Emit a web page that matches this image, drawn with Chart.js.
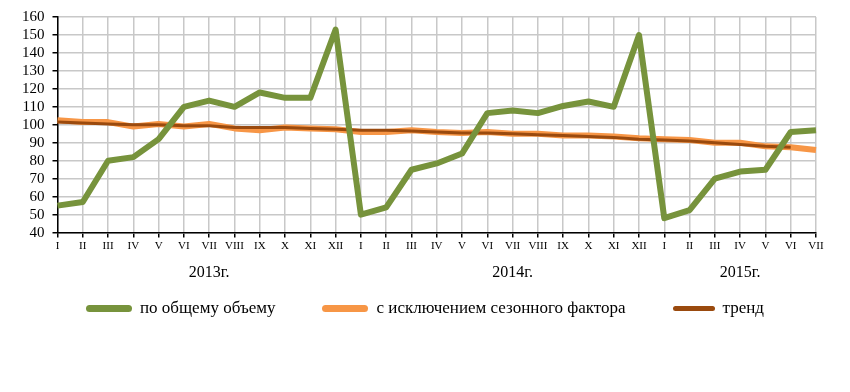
<!DOCTYPE html>
<html>
<head>
<meta charset="utf-8">
<script src="https://cdn.jsdelivr.net/npm/chart.js@4.4.1/dist/chart.umd.min.js"></script>
<style>
  html, body { margin: 0; padding: 0; background: #fff; }
  #wrap { position: relative; width: 850px; height: 392px; }
  #legend {
    position: absolute; left: 0; top: 298px; width: 850px;
    display: flex; justify-content: center; gap: 47px;
    font-family: 'Liberation Serif', 'Times New Roman', serif; font-size: 17px; color: #000;
  }
  #legend .item { display: flex; align-items: center; }
  #legend .swatch { width: 46px; height: 7px; border-radius: 4px; margin-right: 8px; }
</style>
</head>
<body>
<div id="wrap">
  <canvas id="chart" width="850" height="392"></canvas>
  <div id="legend"></div>
</div>
<script>
// ---------------------------------------------------------------------------
// Data
// ---------------------------------------------------------------------------

const ROMAN = ['I','II','III','IV','V','VI','VII','VIII','IX','X','XI','XII'];
const years       = ['2013г.', '2014г.', '2015г.'];
const monthsCount = [12, 12, 7];

const totalVolume = [
  55, 57, 80, 82, 92, 110, 113.5, 110, 118, 115, 115, 153,
  50, 54, 75, 78.5, 84, 106.5, 108, 106.5, 110.5, 113, 110, 150,
  48, 52.5, 70, 74, 75, 96, 97,
];
const seasonAdj = [
  102.5, 101.5, 101.5, 99, 100.5, 99, 100.5, 98, 97, 98.5, 98, 97.5,
  96, 96, 97, 96, 95.5, 96, 95, 95, 94, 94, 93.5, 92.5,
  92, 91.5, 90, 90, 88, 87.5, 86,
];
const trend = [
  101.5, 101, 100.5, 100, 100, 99.5, 99.5, 98.5, 98.5, 98.5, 98, 97.5,
  97, 97, 96.5, 96, 95.5, 95.5, 95, 94.5, 94, 93.5, 93, 92,
  91.5, 91, 90, 89, 88, 87.5, null,
];

const seriesNames  = ['по общему объему', 'с исключением сезонного фактора', 'тренд'];
const seriesColors = ['#77933C', '#F79646', '#9A4A0E'];

// month labels and year labels (centered in each year's block)
const monthLabels = [];
const yearLabels  = [];
monthsCount.forEach((n, yi) => {
  for (let m = 0; m < n; m++) {
    monthLabels.push(ROMAN[m]);
    yearLabels.push(m === Math.floor(n / 2) ? years[yi] : '');
  }
});

// ---------------------------------------------------------------------------
// Chart
// ---------------------------------------------------------------------------

const SERIF = "'Liberation Serif', 'Times New Roman', serif";

const chart = new Chart(document.getElementById('chart'), {
  type: 'line',
  data: {
    labels: monthLabels,
    datasets: [
      { label: seriesNames[0], data: totalVolume, borderColor: seriesColors[0], borderWidth: 6, order: 0 },
      { label: seriesNames[1], data: seasonAdj,   borderColor: seriesColors[1], borderWidth: 6, order: 2 },
      { label: seriesNames[2], data: trend,       borderColor: seriesColors[2], borderWidth: 3, order: 1 },
    ],
  },
  options: {
    responsive: false,
    animation: false,
    layout: { padding: { top: 11, right: 34, bottom: 102, left: 14 } },
    elements: {
      point: { radius: 0 },
      line:  { tension: 0, borderJoinStyle: 'round', borderCapStyle: 'butt' },
    },
    plugins: { legend: { display: false }, tooltip: { enabled: false } },
    scales: {
      x: {
        offset: false,
        grid: { color: '#c8c8c8', lineWidth: 1.5, tickColor: '#000', tickLength: 5, offset: false },
        border: { color: '#000', width: 1.5 },
        ticks: { autoSkip: false, maxRotation: 0, color: '#000', padding: 2, font: { family: SERIF, size: 11 } },
      },
      years: {
        type: 'category',
        position: 'bottom',
        labels: yearLabels,
        offset: false,
        grid: { display: false, drawTicks: false },
        border: { display: false },
        ticks: { autoSkip: false, maxRotation: 0, color: '#000', padding: 8, font: { family: SERIF, size: 16 } },
      },
      y: {
        min: 40, max: 160,
        grid: { color: '#c8c8c8', lineWidth: 1.5, tickColor: '#000', tickLength: 5 },
        border: { color: '#000', width: 1.5 },
        ticks: { stepSize: 10, autoSkip: false, color: '#000', padding: 8, font: { family: SERIF, size: 15 } },
      },
    },
  },
});

// HTML legend built from the datasets
document.getElementById('legend').innerHTML = chart.data.datasets.map((ds, i) => `
  <span class="item">
    <span class="swatch" style="background:${ds.borderColor};${i === 2 ? 'height:5px;width:42px;' : ''}"></span>
    ${ds.label}
  </span>
`).join('');
</script>
</body>
</html>
